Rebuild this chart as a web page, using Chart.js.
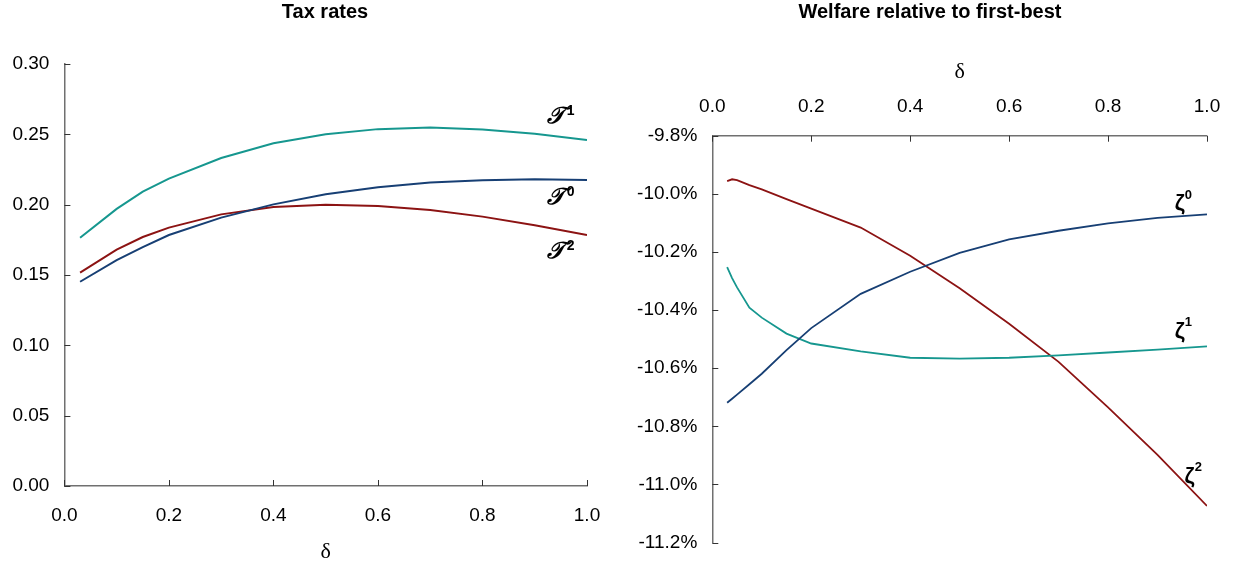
<!DOCTYPE html>
<html>
<head>
<meta charset="utf-8">
<script src="https://cdn.jsdelivr.net/npm/chart.js@4.4.1/dist/chart.umd.min.js"></script>
<style>
  html, body { margin: 0; padding: 0; background: #fff; }
  body { width: 1238px; height: 569px; position: relative; overflow: hidden; }
  .panel { position: absolute; top: 0; height: 569px; }
  #leftPanel { left: 0; width: 620px; }
  #rightPanel { left: 620px; width: 618px; }
</style>
</head>
<body>
<div class="panel" id="leftPanel"><canvas id="taxChart"></canvas></div>
<div class="panel" id="rightPanel"><canvas id="welfareChart"></canvas></div>
<script>
// ---- Tax rates by delta ----
const deltaTax = [0.03, 0.10, 0.15, 0.20, 0.30, 0.40, 0.50, 0.60, 0.70, 0.80, 0.90, 1.00];
const taxT0 = [0.1452, 0.1605, 0.1698, 0.1784, 0.1908, 0.2002, 0.2074, 0.2124, 0.2157, 0.2174, 0.2181, 0.2176];
const taxT1 = [0.1765, 0.1970, 0.2092, 0.2185, 0.2332, 0.2437, 0.2501, 0.2537, 0.2549, 0.2534, 0.2504, 0.2459];
const taxT2 = [0.1517, 0.1680, 0.1770, 0.1837, 0.1931, 0.1984, 0.2000, 0.1991, 0.1962, 0.1915, 0.1853, 0.1784];

// ---- Welfare relative to first-best (%) by delta ----
const deltaWelfare = [0.03, 0.04, 0.05, 0.075, 0.10, 0.15, 0.20, 0.30, 0.40, 0.50, 0.60, 0.70, 0.80, 0.90, 1.00];
const welfareZ0 = [-10.719, -10.705, -10.691, -10.655, -10.619, -10.538, -10.462, -10.344, -10.268, -10.203, -10.157, -10.127, -10.102, -10.083, -10.071];
const welfareZ1 = [-10.252, -10.290, -10.322, -10.392, -10.426, -10.481, -10.515, -10.542, -10.564, -10.567, -10.564, -10.556, -10.546, -10.536, -10.525];
const welfareZ2 = [-9.956, -9.950, -9.953, -9.970, -9.985, -10.018, -10.051, -10.116, -10.213, -10.325, -10.447, -10.578, -10.735, -10.898, -11.074];

// ---- Tick values ----
const deltaTicks = [0.0, 0.2, 0.4, 0.6, 0.8, 1.0];
const taxTicks = [0.00, 0.05, 0.10, 0.15, 0.20, 0.25, 0.30];
const welfareTicks = [-11.2, -11.0, -10.8, -10.6, -10.4, -10.2, -10.0, -9.8];

const TEAL = '#16978f';
const NAVY = '#173f74';
const RED = '#8c1313';
const AXIS = '#707070';
const SANS = "'Liberation Sans', Arial, Helvetica, sans-serif";
const SERIF = "'Liberation Serif', 'Times New Roman', 'DejaVu Serif', serif";

Chart.defaults.font.family = SANS;
Chart.defaults.color = '#000';

const toPoints = (xs, ys) => xs.map((x, i) => ({ x, y: ys[i] }));
const setTicks = vals => scale => { scale.ticks = vals.map(v => ({ value: v })); };

// Tick marks pointing into the plot area
const innerTicks = {
  id: 'innerTicks',
  afterDatasetsDraw(chart, args, opts) {
    const { ctx, chartArea: a } = chart;
    ctx.save();
    ctx.strokeStyle = opts.color;
    ctx.lineWidth = opts.width;
    Object.values(chart.scales).forEach(s => {
      s.ticks.forEach(t => {
        const p = Math.round(s.getPixelForValue(t.value)) + 0.5;
        ctx.beginPath();
        if (s.isHorizontal()) {
          const y0 = s.position === 'top' ? a.top : a.bottom;
          const dir = s.position === 'top' ? 1 : -1;
          ctx.moveTo(p, y0);
          ctx.lineTo(p, y0 + dir * opts.length);
        } else {
          ctx.moveTo(a.left, p);
          ctx.lineTo(a.left + opts.length, p);
        }
        ctx.stroke();
      });
    });
    ctx.restore();
  }
};

// Series names written next to the curves, with superscript index
const curveLabels = {
  id: 'curveLabels',
  afterDatasetsDraw(chart, args, opts) {
    const { ctx, scales: { x, y } } = chart;
    (opts.items || []).forEach(it => {
      const px = x.getPixelForValue(it.x);
      const py = y.getPixelForValue(it.y);
      ctx.save();
      ctx.fillStyle = '#000';
      ctx.font = opts.font;
      ctx.textAlign = 'center';
      ctx.textBaseline = 'middle';
      ctx.fillText(it.text, px, py);
      const w = ctx.measureText(it.text).width;
      ctx.font = opts.supFont;
      ctx.textAlign = 'left';
      ctx.fillText(it.sup, px + w / 2 + opts.supDx, py + opts.supDy);
      ctx.restore();
    });
  }
};

// Panel heading
const panelTitle = {
  id: 'panelTitle',
  afterDraw(chart, args, opts) {
    const { ctx } = chart;
    ctx.save();
    ctx.fillStyle = '#000';
    ctx.font = 'bold 20px ' + SANS;
    ctx.textAlign = 'center';
    ctx.textBaseline = 'alphabetic';
    ctx.fillText(opts.text, opts.x, opts.y);
    ctx.restore();
  }
};

const lineStyle = color => ({
  borderColor: color,
  backgroundColor: color,
  borderWidth: 2,
  pointRadius: 0,
  pointHoverRadius: 0,
  tension: 0,
  fill: false
});

const axisGrid = { display: true, drawOnChartArea: false, drawTicks: false };
const axisBorder = { display: true, color: AXIS, width: 1.5 };
const tickFont = { size: 19 };

// ---- Left panel: tax rates ----
new Chart(document.getElementById('taxChart'), {
  type: 'line',
  data: {
    datasets: [
      { label: 'T0', data: toPoints(deltaTax, taxT0), ...lineStyle(NAVY) },
      { label: 'T1', data: toPoints(deltaTax, taxT1), ...lineStyle(TEAL) },
      { label: 'T2', data: toPoints(deltaTax, taxT2), ...lineStyle(RED) }
    ]
  },
  options: {
    responsive: true,
    maintainAspectRatio: false,
    animation: false,
    events: [],
    layout: { padding: { left: 0, right: 33, top: 64, bottom: 0 } },
    plugins: {
      legend: { display: false },
      tooltip: { enabled: false },
      title: { display: false },
      panelTitle: { text: 'Tax rates', x: 325, y: 18.3 },
      innerTicks: { color: '#333', width: 1, length: 6 },
      curveLabels: {
        font: 'bold italic 23px ' + SERIF,
        supFont: 'bold 14px ' + SANS,
        supDx: 2, supDy: -6,
        items: [
          { text: '\u{1D4AF}', sup: '1', x: 0.940, y: 0.262 },
          { text: '\u{1D4AF}', sup: '0', x: 0.940, y: 0.2045 },
          { text: '\u{1D4AF}', sup: '2', x: 0.940, y: 0.1665 }
        ]
      }
    },
    scales: {
      x: {
        type: 'linear', position: 'bottom', min: 0, max: 1,
        afterBuildTicks: setTicks(deltaTicks),
        afterFit: s => { s.height = 83; },
        grid: axisGrid, border: axisBorder,
        ticks: { padding: 18.6, font: tickFont, color: '#000', callback: v => v.toFixed(1), maxRotation: 0 },
        title: { display: true, text: 'δ', color: '#000', font: { family: SERIF, size: 22, lineHeight: 1.2 }, padding: { top: 0, bottom: 3.2 } }
      },
      y: {
        type: 'linear', position: 'left', min: 0, max: 0.30,
        afterBuildTicks: setTicks(taxTicks),
        afterFit: s => { s.width = 64.4; },
        grid: axisGrid, border: axisBorder,
        ticks: { padding: 15, font: tickFont, color: '#000', callback: v => v.toFixed(2) }
      }
    }
  },
  plugins: [innerTicks, curveLabels, panelTitle]
});

// ---- Right panel: welfare relative to first-best ----
new Chart(document.getElementById('welfareChart'), {
  type: 'line',
  data: {
    datasets: [
      { label: 'Z0', data: toPoints(deltaWelfare, welfareZ0), ...lineStyle(NAVY), borderWidth: 1.8 },
      { label: 'Z1', data: toPoints(deltaWelfare, welfareZ1), ...lineStyle(TEAL), borderWidth: 1.8 },
      { label: 'Z2', data: toPoints(deltaWelfare, welfareZ2), ...lineStyle(RED), borderWidth: 1.8 }
    ]
  },
  options: {
    responsive: true,
    maintainAspectRatio: false,
    animation: false,
    events: [],
    layout: { padding: { left: 0, right: 26.3, top: 51.3, bottom: 12 } },
    plugins: {
      legend: { display: false },
      tooltip: { enabled: false },
      title: { display: false },
      panelTitle: { text: 'Welfare relative to first-best', x: 310, y: 18.3 },
      innerTicks: { color: '#333', width: 1, length: 6 },
      curveLabels: {
        font: 'bold 22px ' + SANS,
        supFont: 'bold 13px ' + SANS,
        supDx: 0, supDy: -9,
        items: [
          { text: 'ζ', sup: '0', x: 0.945, y: -10.035 },
          { text: 'ζ', sup: '1', x: 0.945, y: -10.475 },
          { text: 'ζ', sup: '2', x: 0.965, y: -10.973 }
        ]
      }
    },
    scales: {
      x: {
        type: 'linear', position: 'top', min: 0, max: 1,
        afterBuildTicks: setTicks(deltaTicks),
        afterFit: s => { s.height = 84.4; },
        grid: axisGrid, border: axisBorder,
        ticks: { padding: 17.8, font: tickFont, color: '#000', callback: v => v.toFixed(1), maxRotation: 0 },
        title: { display: true, text: 'δ', color: '#000', font: { family: SERIF, size: 22, lineHeight: 1.2 }, padding: { top: 8, bottom: 0 } }
      },
      y: {
        type: 'linear', position: 'left', min: -11.2, max: -9.8,
        afterBuildTicks: setTicks(welfareTicks),
        afterFit: s => { s.width = 92.3; },
        grid: axisGrid, border: axisBorder,
        ticks: { padding: 15, font: tickFont, color: '#000', callback: v => v.toFixed(1) + '%' }
      }
    }
  },
  plugins: [innerTicks, curveLabels, panelTitle]
});
</script>
</body>
</html>
